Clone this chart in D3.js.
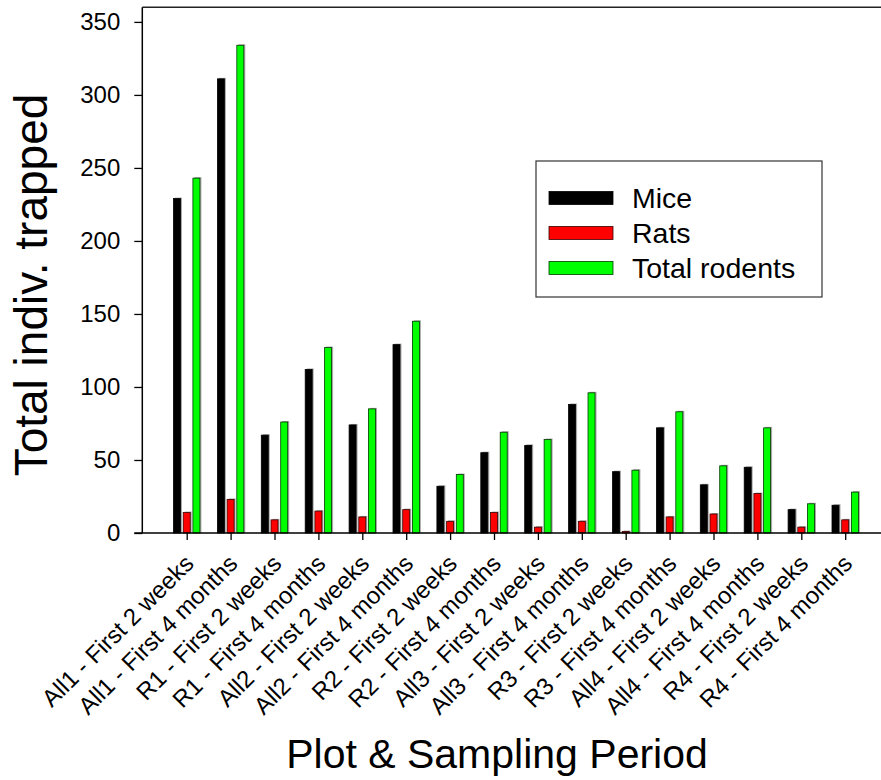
<!DOCTYPE html>
<html>
<head>
<meta charset="utf-8">
<script src="https://cdn.jsdelivr.net/npm/d3@7"></script>
<style>
  html, body { margin: 0; padding: 0; background: #fff; }
  svg { display: block; }
  text { font-family: "Liberation Sans", Arial, sans-serif; fill: #000; }
</style>
</head>
<body>
<div id="chart"></div>
<script>
const categories = [
  "All1 - First 2 weeks", "All1 - First 4 months",
  "R1 - First 2 weeks", "R1 - First 4 months",
  "All2 - First 2 weeks", "All2 - First 4 months",
  "R2 - First 2 weeks", "R2 - First 4 months",
  "All3 - First 2 weeks", "All3 - First 4 months",
  "R3 - First 2 weeks", "R3 - First 4 months",
  "All4 - First 2 weeks", "All4 - First 4 months",
  "R4 - First 2 weeks", "R4 - First 4 months"
];
const mice   = [229, 311, 67, 112, 74, 129, 32, 55, 60, 88, 42, 72, 33, 45, 16, 19];
const rats   = [14, 23, 9, 15, 11, 16, 8, 14, 4, 8, 1, 11, 13, 27, 4, 9];
const total  = [243, 334, 76, 127, 85, 145, 40, 69, 64, 96, 43, 83, 46, 72, 20, 28];
const seriesNames = ["Mice", "Rats", "Total rodents"];
const seriesColors = ["#000000", "#ff0000", "#00ff00"];
const seriesStrokes = ["#000000", "#3a0000", "#003a00"];
const yTicks = [0, 50, 100, 150, 200, 250, 300, 350];
const yTitle = "Total indiv. trapped";
const xTitle = "Plot & Sampling Period";

const W = 881, H = 780;
const pLeft = 142.3, pTop = 7.3, pBottom = 533, pRight = 889;

const svg = d3.select("#chart").append("svg").attr("width", W).attr("height", H);

const x = d3.scalePoint().domain(categories).range([186.7, 845.2]);
const y = d3.scaleLinear().domain([0, 360]).range([pBottom, pTop]);

const seriesData = [mice, rats, total];
const sub = d3.scaleBand().domain(seriesNames).range([-13.2, 13.2]).paddingInner(0.28).paddingOuter(0);

// Bars
seriesData.forEach((vals, si) => {
  const g = svg.append("g");
  const bw = sub.bandwidth();
  g.selectAll("rect.sh").data(vals).enter().append("rect")
    .attr("class", "sh")
    .attr("x", (d, i) => x(categories[i]) + sub(seriesNames[si]) + 1.5)
    .attr("y", d => y(d) - 1)
    .attr("width", bw)
    .attr("height", d => pBottom - y(d) + 1)
    .attr("fill", "#a8a8a8");
  g.selectAll("rect.bar").data(vals).enter().append("rect")
    .attr("class", "bar")
    .attr("x", (d, i) => x(categories[i]) + sub(seriesNames[si]))
    .attr("y", d => y(d))
    .attr("width", bw)
    .attr("height", d => pBottom - y(d))
    .attr("fill", seriesColors[si])
    .attr("stroke", seriesStrokes[si])
    .attr("stroke-width", 0.8);
});

// Frame top line
svg.append("line").attr("x1", pLeft).attr("x2", pRight).attr("y1", pTop).attr("y2", pTop)
  .attr("stroke", "#222").attr("stroke-width", 1.6);

// Y axis
const yAxis = d3.axisLeft(y).tickValues(yTicks).tickSize(8).tickPadding(14).tickSizeOuter(0);
const ya = svg.append("g").attr("transform", `translate(${pLeft},0)`).call(yAxis);
ya.select(".domain").attr("stroke", "#000").attr("stroke-width", 1.5).attr("d", `M0,${pTop}V${pBottom}`);
ya.selectAll(".tick line").attr("stroke", "#000").attr("stroke-width", 1.3);
ya.selectAll(".tick text").attr("font-size", 24).attr("font-family", "Liberation Sans, Arial, sans-serif").attr("fill", "#000");

// X axis
const xAxis = d3.axisBottom(x).tickSize(7).tickSizeOuter(0);
const xa = svg.append("g").attr("transform", `translate(0,${pBottom})`).call(xAxis);
xa.select(".domain").attr("stroke", "#000").attr("stroke-width", 1.5).attr("d", `M${pLeft - 8},0H${pRight}`);
xa.selectAll(".tick line").attr("stroke", "#000").attr("stroke-width", 1.3);
xa.selectAll(".tick text")
  .attr("font-size", 24)
  .attr("font-family", "Liberation Sans, Arial, sans-serif")
  .attr("fill", "#000")
  .attr("text-anchor", "end")
  .attr("dy", null)
  .attr("y", 0)
  .attr("transform", "translate(8,32) rotate(-45)");

// Axis titles
svg.append("text")
  .attr("transform", `translate(47,${285}) rotate(-90)`)
  .attr("text-anchor", "middle")
  .attr("font-size", 46)
  .text(yTitle);

svg.append("text")
  .attr("x", 497).attr("y", 768)
  .attr("text-anchor", "middle")
  .attr("font-size", 41)
  .text(xTitle);

// Legend
const lg = svg.append("g");
lg.append("rect").attr("x", 536).attr("y", 161).attr("width", 286).attr("height", 136)
  .attr("fill", "#fff").attr("stroke", "#333").attr("stroke-width", 1.2);
const ly = d3.scalePoint().domain(seriesNames).range([198, 268]);
seriesNames.forEach((n, i) => {
  lg.append("rect").attr("x", 549).attr("y", ly(n) - 6.5).attr("width", 64).attr("height", 13)
    .attr("fill", seriesColors[i]).attr("stroke", seriesStrokes[i]).attr("stroke-width", 0.8);
  lg.append("text").attr("x", 632).attr("y", ly(n) + 10).attr("font-size", 28.5).text(n);
});
</script>
</body>
</html>
